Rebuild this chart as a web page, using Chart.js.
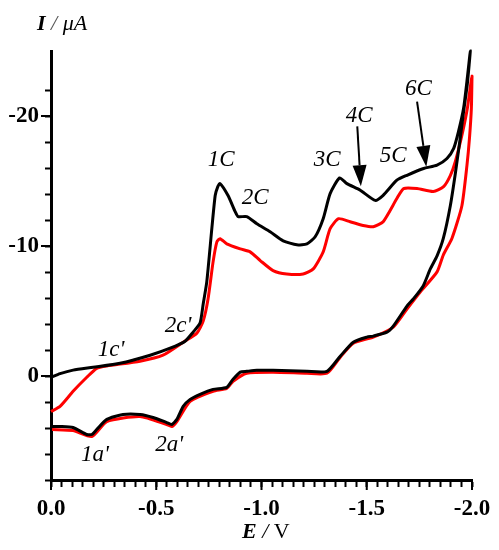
<!DOCTYPE html>
<html>
<head>
<meta charset="utf-8">
<title>Cyclic voltammogram</title>
<script src="https://cdn.jsdelivr.net/npm/chart.js@4.4.1/dist/chart.umd.min.js"></script>
<style>
  html, body { margin: 0; padding: 0; background: #fff; }
</style>
</head>
<body>
<canvas id="cv" width="499" height="550"></canvas>
<script>
// Black curve: forward (cathodic) scan then reverse scan, E in V, I in uA
const blackE = [0.000, -0.043, -0.105, -0.200, -0.328, -0.471, -0.566, -0.637, -0.675, -0.708,
  -0.723, -0.740, -0.764, -0.780, -0.792, -0.803, -0.841, -0.875, -0.889, -0.930,
  -0.978, -1.041, -1.103, -1.168, -1.216, -1.255, -1.293, -1.326, -1.371, -1.406,
  -1.469, -1.540, -1.578, -1.643, -1.691, -1.770, -1.834, -1.881, -1.913, -1.936,
  -1.960, -1.976, -1.992,
  -1.978, -1.959, -1.944, -1.921, -1.897, -1.864, -1.834, -1.802, -1.768, -1.721,
  -1.691, -1.626, -1.596, -1.531, -1.501, -1.436, -1.374, -1.311, -1.216, -1.055,
  -0.978, -0.930, -0.899, -0.865, -0.835, -0.770, -0.708, -0.661, -0.628, -0.598,
  -0.574, -0.550, -0.485, -0.423, -0.342, -0.265, -0.217, -0.194, -0.170, -0.105,
  -0.043, -0.005];
const blackI = [0.10, -0.18, -0.45, -0.67, -0.98, -1.60, -2.14, -2.68, -3.37, -4.07,
  -5.54, -7.24, -11.33, -13.88, -14.55, -14.80, -13.88, -12.64, -12.26, -12.26,
  -11.71, -11.10, -10.40, -10.09, -10.17, -10.71, -12.10, -14.03, -15.24, -14.80,
  -14.29, -13.51, -13.90, -15.06, -15.44, -15.96, -16.22, -16.73, -17.51, -18.82,
  -20.59, -22.68, -25.00,
  -22.50, -20.20, -18.30, -15.60, -13.10, -10.60, -9.24, -8.24, -6.93, -5.92,
  -5.38, -3.84, -3.37, -3.07, -2.99, -2.60, -1.52, -0.36, -0.36, -0.44,
  -0.44, -0.36, -0.30, 0.25, 0.87, 1.03, 1.41, 1.80, 2.34, 3.34,
  3.73, 3.58, 3.19, 2.96, 2.96, 3.34, 4.12, 4.50, 4.50, 3.96,
  3.88, 3.88];

// Red curve
const redE = [0.000, -0.043, -0.105, -0.170, -0.217, -0.265, -0.423, -0.532, -0.628, -0.693,
  -0.723, -0.746, -0.770, -0.788, -0.803, -0.835, -0.899, -0.946, -0.994, -1.055,
  -1.120, -1.198, -1.246, -1.293, -1.326, -1.366, -1.421, -1.483, -1.531, -1.578,
  -1.643, -1.675, -1.739, -1.816, -1.865, -1.897, -1.921, -1.954, -1.978, -2.000,
  -1.997, -1.988, -1.976, -1.952, -1.905, -1.864, -1.834, -1.754, -1.691, -1.626,
  -1.531, -1.436, -1.374, -1.311, -1.216, -1.055, -0.930, -0.865, -0.835, -0.770,
  -0.661, -0.598, -0.574, -0.550, -0.423, -0.265, -0.194, -0.105, -0.005];
const redI = [2.73, 2.34, 1.18, 0.10, -0.59, -0.77, -1.14, -1.60, -2.60, -3.30,
  -4.22, -5.92, -8.78, -10.32, -10.56, -10.17, -9.78, -9.55, -8.88, -8.11,
  -7.85, -7.85, -8.24, -9.55, -11.33, -12.10, -11.87, -11.58, -11.48, -11.87,
  -13.65, -14.42, -14.42, -14.19, -14.57, -15.42, -16.50, -18.66, -20.59, -23.07,
  -20.60, -18.30, -16.20, -13.10, -10.60, -9.32, -8.01, -6.46, -5.15, -3.76,
  -2.99, -2.53, -1.45, -0.21, -0.21, -0.29, -0.21, 0.41, 0.95, 1.18,
  1.95, 3.50, 3.88, 3.73, 3.11, 3.50, 4.66, 4.20, 4.12];

// Axes
const xMajorTicks = [0, -0.5, -1.0, -1.5, -2.0];
const xTickLabels = ['0.0', '-0.5', '-1.0', '-1.5', '-2.0'];
const xMinorStep = 0.05;
const yMajorTicks = [-20, -10, 0];
const yTickLabels = ['-20', '-10', '0'];
const yMinorTicks = [-22, -20, -18, -16, -14, -12, -10, -8, -6, -4, -2, 0, 2, 4, 6, 8];

// Peak labels (text, E, I)
const peakNames = ['1C', '2C', '3C', '4C', '5C', '6C', "1c'", "2c'", "1a'", "2a'"];
const peakNameE = [-0.808, -0.970, -1.312, -1.464, -1.626, -1.745, -0.285, -0.604, -0.209, -0.561];
const peakNameI = [-16.6, -13.7, -16.6, -20.0, -16.9, -22.1, -1.98, -3.84, 6.05, 5.27];

// Arrows for 4C and 6C: from (E,I) to (E,I)
const arrowFromE = [-1.455, -1.739];
const arrowFromI = [-19.2, -21.1];
const arrowToE = [-1.472, -1.783];
const arrowToI = [-14.6, -16.1];

const SERIF = '"Liberation Serif", "Times New Roman", serif';

function toPoints(xs, ys) {
    return xs.map((x, i) => ({ x: x, y: ys[i] }));
}

function findMajor(value, majors) {
    for (let i = 0; i < majors.length; i++) {
        if (Math.abs(value - majors[i]) < 1e-6) return i;
    }
    return -1;
}

function drawRuns(ctx, x, y, runs) {
    runs.forEach(run => {
        ctx.font = run.font;
        ctx.fillStyle = run.color || '#000';
        ctx.fillText(run.text, x, y);
        x += ctx.measureText(run.text).width;
    });
}

// longer major ticks, peak labels, arrows and axis titles
const decorPlugin = {
    id: 'decor',
    afterDraw(chart) {
        const ctx = chart.ctx;
        const xs = chart.scales.x;
        const ys = chart.scales.y;
        const area = chart.chartArea;
        ctx.save();

        // major tick extensions
        ctx.strokeStyle = '#000';
        ctx.lineWidth = 2;
        ctx.beginPath();
        xMajorTicks.forEach(v => {
            const px = xs.getPixelForValue(v);
            ctx.moveTo(px, area.bottom);
            ctx.lineTo(px, area.bottom + 10);
        });
        yMajorTicks.forEach(v => {
            const py = ys.getPixelForValue(v);
            ctx.moveTo(area.left, py);
            ctx.lineTo(area.left - 10, py);
        });
        ctx.stroke();

        // peak labels
        ctx.textAlign = 'center';
        ctx.textBaseline = 'middle';
        ctx.fillStyle = '#000';
        ctx.font = 'italic 23px ' + SERIF;
        peakNames.forEach((name, i) => {
            ctx.fillText(name, xs.getPixelForValue(peakNameE[i]), ys.getPixelForValue(peakNameI[i]));
        });

        // arrows
        arrowFromE.forEach((e, i) => {
            const x1 = xs.getPixelForValue(e);
            const y1 = ys.getPixelForValue(arrowFromI[i]);
            const x2 = xs.getPixelForValue(arrowToE[i]);
            const y2 = ys.getPixelForValue(arrowToI[i]);
            const ang = Math.atan2(y2 - y1, x2 - x1);
            const headLen = 21, headHalf = 7;
            const bx = x2 - headLen * Math.cos(ang);
            const by = y2 - headLen * Math.sin(ang);
            ctx.lineWidth = 2;
            ctx.beginPath();
            ctx.moveTo(x1, y1);
            ctx.lineTo(bx, by);
            ctx.stroke();
            ctx.beginPath();
            ctx.moveTo(x2, y2);
            ctx.lineTo(bx + headHalf * Math.sin(ang), by - headHalf * Math.cos(ang));
            ctx.lineTo(bx - headHalf * Math.sin(ang), by + headHalf * Math.cos(ang));
            ctx.closePath();
            ctx.fill();
        });

        // axis titles
        ctx.textAlign = 'left';
        ctx.textBaseline = 'alphabetic';
        drawRuns(ctx, area.left - 14, area.top - 21, [
            { text: 'I', font: 'italic bold 22px ' + SERIF },
            { text: ' / ', font: 'italic 22px ' + SERIF, color: '#555' },
            { text: '\u03bcA', font: 'italic 22px ' + SERIF }
        ]);
        drawRuns(ctx, 242, area.bottom + 58, [
            { text: 'E', font: 'italic bold 22px ' + SERIF },
            { text: ' / ', font: 'italic 22px ' + SERIF },
            { text: 'V', font: '22px ' + SERIF }
        ]);
        ctx.restore();
    }
};

const tickFont = { family: SERIF, size: 23, weight: 'bold' };

new Chart(document.getElementById('cv'), {
    type: 'line',
    data: {
        datasets: [{
            label: 'black',
            data: toPoints(blackE, blackI),
            borderColor: '#000000',
            borderWidth: 3,
            pointRadius: 0,
            tension: 0.2,
            fill: false,
            clip: false
        }, {
            label: 'red',
            data: toPoints(redE, redI),
            borderColor: '#ff0000',
            borderWidth: 3,
            pointRadius: 0,
            tension: 0.2,
            fill: false,
            clip: false
        }]
    },
    options: {
        responsive: false,
        animation: false,
        layout: { padding: { left: 0, top: 51, right: 27, bottom: 0 } },
        plugins: {
            legend: { display: false },
            tooltip: { enabled: false }
        },
        scales: {
            x: {
                type: 'linear',
                min: -2,
                max: 0,
                reverse: true,
                afterBuildTicks: scale => {
                    const ticks = [];
                    for (let v = 0; v >= -2.0001; v -= xMinorStep) {
                        ticks.push({ value: Math.round(v * 100) / 100 });
                    }
                    scale.ticks = ticks;
                },
                afterFit: scale => { scale.height = 70; },
                ticks: {
                    autoSkip: false,
                    maxRotation: 0,
                    padding: 8,
                    color: '#000',
                    font: tickFont,
                    callback: value => {
                        const i = findMajor(value, xMajorTicks);
                        return i >= 0 ? xTickLabels[i] : '';
                    }
                },
                grid: { drawOnChartArea: false, tickLength: 7, tickWidth: 2, tickColor: '#000' },
                border: { display: true, width: 3, color: '#000' }
            },
            y: {
                type: 'linear',
                min: -25,
                max: 8,
                reverse: true,
                afterBuildTicks: scale => {
                    scale.ticks = yMinorTicks.map(v => ({ value: v }));
                },
                afterFit: scale => { scale.width = 51; },
                ticks: {
                    autoSkip: false,
                    padding: 6,
                    color: '#000',
                    font: tickFont,
                    callback: value => {
                        const i = findMajor(value, yMajorTicks);
                        return i >= 0 ? yTickLabels[i] : '';
                    }
                },
                grid: { drawOnChartArea: false, tickLength: 6, tickWidth: 2, tickColor: '#000' },
                border: { display: true, width: 3, color: '#000' }
            }
        }
    },
    plugins: [decorPlugin]
});
</script>
</body>
</html>
